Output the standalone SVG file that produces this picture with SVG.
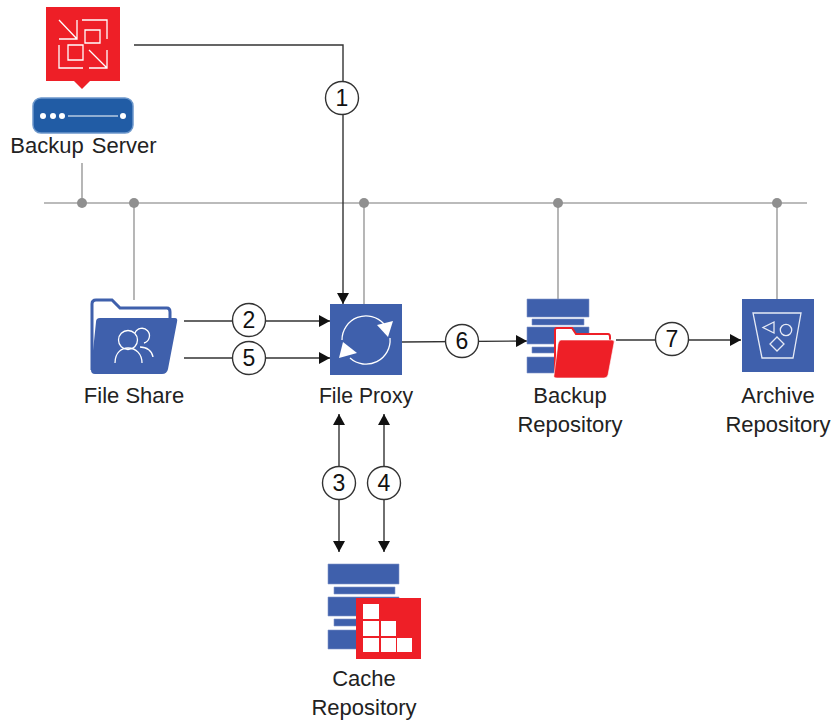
<svg xmlns="http://www.w3.org/2000/svg" width="835" height="724" viewBox="0 0 835 724">
<defs>
<marker id="ah" markerUnits="userSpaceOnUse" markerWidth="11" markerHeight="12" refX="11" refY="6" orient="auto-start-reverse"><path d="M0 0L11 6L0 12Z" fill="#111"/></marker>
</defs>
<style>
text{font-family:"Liberation Sans",Arial,sans-serif;font-size:22px;fill:#222;text-anchor:middle}
.w{fill:none;stroke:#fff;stroke-width:1.3}
.ww{fill:none;stroke:#e6eaf5;stroke-width:1.3}
.b{fill:#3f60ac}
.r{fill:#ee1f27}
.g{stroke:#a5a5a5;stroke-width:1.6;fill:none}
.k{stroke:#333;stroke-width:1.4;fill:none}
.c{fill:#fff;stroke:#333;stroke-width:1.4}
.d{fill:#8f8f8f}
.n{font-size:23px;fill:#111}
</style>
<rect width="835" height="724" fill="#fff"/>
<g id="connectors">
<path class="g" d="M44 203H807M82 163V203M134 203V300M364 203V304M558 203V300M777 203V299"/>
<circle class="d" cx="82" cy="203" r="5"/><circle class="d" cx="134" cy="203" r="5"/><circle class="d" cx="364" cy="203" r="5"/><circle class="d" cx="558" cy="203" r="5"/><circle class="d" cx="777" cy="203" r="5"/>
<path class="k" d="M134 45H343V304" marker-end="url(#ah)"/>
<path class="k" d="M184 321H330" marker-end="url(#ah)"/>
<path class="k" d="M184 358H330" marker-end="url(#ah)"/>
<path class="k" d="M402 342L527 341" marker-end="url(#ah)"/>
<path class="k" d="M616 340H741" marker-end="url(#ah)"/>
<path class="k" d="M339 414V552" marker-start="url(#ah)" marker-end="url(#ah)"/>
<path class="k" d="M384 414V552" marker-start="url(#ah)" marker-end="url(#ah)"/>
<circle class="c" cx="342" cy="98" r="16.5"/><text class="n" x="342" y="106">1</text>
<circle class="c" cx="249" cy="320" r="16.5"/><text class="n" x="249" y="328">2</text>
<circle class="c" cx="249" cy="358" r="16.5"/><text class="n" x="249" y="366">5</text>
<circle class="c" cx="462" cy="341" r="16.5"/><text class="n" x="462" y="349">6</text>
<circle class="c" cx="672" cy="339" r="16.5"/><text class="n" x="672" y="347">7</text>
<circle class="c" cx="339" cy="483" r="16.5"/><text class="n" x="339" y="491">3</text>
<circle class="c" cx="384" cy="483" r="16.5"/><text class="n" x="384" y="491">4</text>
</g>
<g id="backup-server">
<path class="r" d="M46 7H120V81H90L82 89L74 81H46Z"/>
<path class="w" d="M59 20L77 39M77 20V39H59M82 20H107V39M85 30H100V43H85ZM59 45V68H83M68 45H83V60H68ZM89 50L107 68M107 50V68H89"/>
<rect x="33" y="98" width="100" height="35" rx="8" fill="#215ca5" stroke="#6c97cb" stroke-width="1.5"/>
<circle cx="43" cy="116" r="3" fill="#fff"/><circle cx="53" cy="116" r="3" fill="#fff"/><circle cx="62" cy="116" r="3" fill="#fff"/><circle cx="123" cy="116" r="3" fill="#fff"/>
<path d="M68 116H118" stroke="#fff" stroke-width="1.2"/>
<text x="83.500" y="153" word-spacing="2">Backup Server</text>
</g>
<g id="file-share">
<path d="M92 370V304Q92 300 96 300H112L120 308H167Q170 308 170 312V320" fill="none" stroke="#3f60ac" stroke-width="3"/>
<path class="b" d="M100 318H175Q178 318 177 322L168 369Q167 374 162 374H95Q91 374 91 370L96 322Q96 318 100 318Z"/>
<circle class="w" cx="128" cy="340" r="9.500"/>
<path class="w" d="M135 333A7.500 7.500 0 1 1 144 343M115 363C115 352 122 348 128 348C136 348 142 354 142 363M140 347C147 347 152 351 153 357"/>
<text x="134" y="403">File Share</text>
</g>
<g id="file-proxy">
<rect class="b" x="330" y="304" width="72" height="71"/>
<path class="w" d="M342 340A24 24 0 0 1 384 324M390 338A24 24 0 0 1 350 358"/>
<path d="M393 321L388 337L377 325Z" fill="#fff"/><path d="M339 358L343 342L357 353Z" fill="#fff"/>
<text x="366" y="403" font-size="21.200" style="font-size:21.200px">File Proxy</text>
</g>
<g id="backup-repository">
<path class="b" d="M527 299H589V317H527ZM532 319H584V325H532ZM527 327H589V344H527ZM532 347H584V353H532ZM527 357H589V373H527Z" stroke="#7f95c9" stroke-width=".6"/>
<path d="M555 372V330Q555 328 557 328H572L576 334H608Q610 334 610 337V345" fill="#fff" stroke="#ee1f27" stroke-width="2"/>
<path class="r" d="M561 340H612Q615 340 614 343L608 375Q607 378 604 378H557Q553 378 554 375L558 344Q559 340 561 340Z" stroke="#fff" stroke-width=".6"/>
<text x="570" y="403">Backup</text>
<text x="570" y="432">Repository</text>
</g>
<g id="archive-repository">
<rect class="b" x="742" y="299" width="72" height="73"/>
<path class="ww" d="M753 313H801L793 358H762Z"/>
<path class="ww" d="M774 322L763 327.500L774 333Z"/>
<circle class="ww" cx="786" cy="330" r="5.700"/>
<path class="ww" d="M777 337L784 344L777 351L770 344Z"/>
<text x="778" y="403">Archive</text>
<text x="778" y="432">Repository</text>
</g>
<g id="cache-repository">
<path class="b" d="M328 564H399V584H328ZM334 587H395V594H334ZM328 597H399V616H328ZM334 619H395V626H334ZM328 630H399V649H328Z" stroke="#7f95c9" stroke-width=".6"/>
<rect class="r" x="356" y="598" width="65" height="61"/>
<path d="M363 604H379V619H363ZM363 621H379V636H363ZM381 621H396V636H381ZM363 638H379V652H363ZM381 638H396V652H381ZM397 638H412V652H397Z" fill="#fff"/>
<text x="364" y="686">Cache</text>
<text x="364" y="715">Repository</text>
</g>
</svg>
